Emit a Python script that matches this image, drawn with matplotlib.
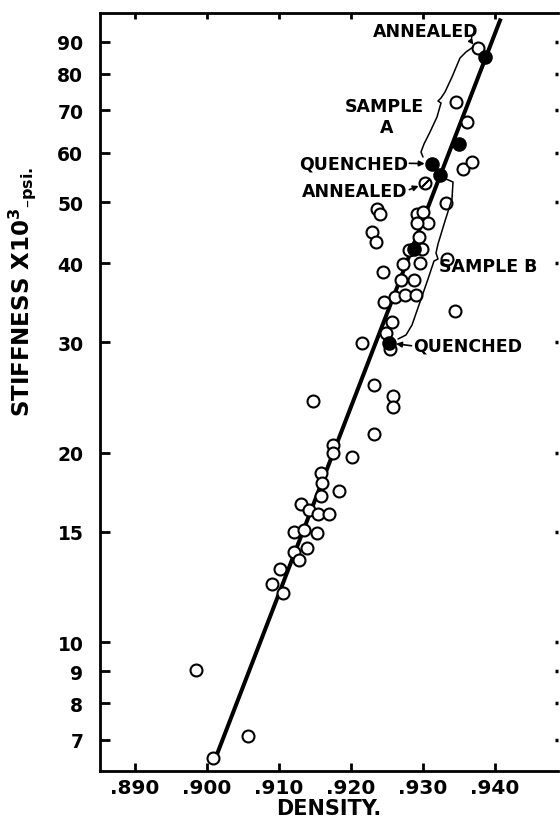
import matplotlib
matplotlib.use('Agg')
import matplotlib.pyplot as plt
from matplotlib.ticker import FixedLocator, FixedFormatter, NullLocator

plt.rcParams['font.family'] = ['DejaVu Sans']
plt.rcParams['font.weight'] = 'bold'
plt.rcParams['mathtext.default'] = 'bf'

# ---- data ----
open_density = [0.9376, 0.9346, 0.9361, 0.9356, 0.9368, 0.9332, 0.9236, 0.9240,
                0.9229, 0.9235, 0.9291, 0.9300, 0.9307, 0.9292, 0.9294, 0.9280,
                0.9298, 0.9272, 0.9296, 0.9245, 0.9270, 0.9288, 0.9261, 0.9275,
                0.9290, 0.9246, 0.9257, 0.9249, 0.9254, 0.9215, 0.9344, 0.9333,
                0.9232, 0.9147, 0.9258, 0.9258, 0.9232, 0.9175, 0.9175, 0.9202,
                0.9159, 0.9160, 0.9183, 0.9159, 0.9130, 0.9142, 0.9154, 0.9170,
                0.9121, 0.9135, 0.9153, 0.9121, 0.9139, 0.9128, 0.9101, 0.9090,
                0.9106, 0.8985, 0.9057, 0.9009]
open_stiffness = [88.0, 72.3, 67.2, 56.5, 57.9, 49.9, 48.9, 48.0,
                  44.9, 43.3, 48.0, 48.2, 46.4, 46.3, 44.0, 42.0,
                  42.2, 39.9, 40.1, 38.8, 37.6, 37.6, 35.4, 35.6,
                  35.6, 34.7, 32.3, 31.0, 29.3, 29.9, 33.6, 40.7,
                  25.6, 24.2, 24.6, 23.7, 21.4, 20.6, 20.0, 19.7,
                  18.6, 17.9, 17.4, 17.1, 16.6, 16.2, 16.0, 16.0,
                  15.0, 15.1, 14.9, 13.9, 14.1, 13.5, 13.1, 12.4,
                  12.0, 9.04, 7.09, 6.54]
filled_density = [0.9386, 0.9350, 0.9312, 0.9324, 0.9288, 0.9253]
filled_stiffness = [85.2, 61.9, 57.6, 55.2, 42.1, 29.9]
slashed_density = [0.9303]
slashed_stiffness = [53.6]
line_density = [0.9013, 0.9408]
line_stiffness = [6.6, 98.0]

xticks = [0.890, 0.900, 0.910, 0.920, 0.930, 0.940]
xtick_labels = ['.890', '.900', '.910', '.920', '.930', '.940']
yticks = [7, 8, 9, 10, 15, 20, 30, 40, 50, 60, 70, 80, 90]
ytick_labels = ['7', '8', '9', '10', '15', '20', '30', '40', '50', '60', '70', '80', '90']

# ---- figure ----
W, H = 560, 828
fig = plt.figure(figsize=(W / 100, H / 100), dpi=100)
L, R, T, B = 100, 558, 14, 772
ax = fig.add_axes([L / W, (H - B) / H, (R - L) / W, (B - T) / H])
ax.set_yscale('log')
ax.set_xlim(0.88514, 0.94875)
ax.set_ylim(6.246, 100)

ax.plot(line_density, line_stiffness, color='black', lw=2.9,
        solid_capstyle='butt', zorder=2)
ax.plot(open_density, open_stiffness, 'o', ms=8.6, mfc='white', mec='black',
        mew=1.5, zorder=3)
ax.plot(slashed_density, slashed_stiffness, 'o', ms=8.6, mfc='white', mec='black',
        mew=1.5, zorder=3)
ax.plot(slashed_density, slashed_stiffness, marker=(2, 2, -45), ms=8.6,
        mec='black', mew=1.3, ls='none', zorder=4)
ax.plot(filled_density, filled_stiffness, 'o', ms=9.0, mfc='black', mec='black',
        mew=1.5, zorder=5)

# axes styling
ax.xaxis.set_major_locator(FixedLocator(xticks))
ax.xaxis.set_major_formatter(FixedFormatter(xtick_labels))
ax.xaxis.set_minor_locator(NullLocator())
ax.yaxis.set_major_locator(FixedLocator(yticks))
ax.yaxis.set_major_formatter(FixedFormatter(ytick_labels))
ax.yaxis.set_minor_locator(NullLocator())
for s in ['left', 'bottom', 'top']:
    ax.spines[s].set_linewidth(2.0)
ax.spines['right'].set_visible(False)
ax.tick_params(axis='x', which='major', direction='in', length=6, width=2,
               labelsize=14.5, pad=5, top=True)
ax.tick_params(axis='y', which='major', direction='in', length=7, width=2,
               labelsize=13.5, pad=12, right=True)
for t in ax.yaxis.get_major_ticks():
    t.tick2line.set_markersize(2.5)
    t.tick2line.set_markeredgewidth(2.5)
for t in ax.xaxis.get_major_ticks():
    t.tick2line.set_markersize(4)
for lab in ax.get_xticklabels() + ax.get_yticklabels():
    lab.set_fontweight('bold')

ax.set_xlabel('DENSITY.', fontsize=15, fontweight='bold', labelpad=1)
fig.text(22 / W, 1 - 292 / H, 'STIFFNESS X10$^{3}$$_{\u2013psi.}$', rotation=90,
         ha='center', va='center', fontsize=16.5, fontweight='bold')

# ---- annotations ----
fs = 12.5
ax.text(0.9304, 93.6, 'ANNEALED', fontsize=fs, ha='center', va='center')
ax.text(0.9246, 71.2, 'SAMPLE', fontsize=fs, ha='center', va='center')
ax.text(0.9250, 65.9, 'A', fontsize=fs, ha='center', va='center')
ax.text(0.9279, 57.7, 'QUENCHED', fontsize=fs, ha='right', va='center')
ax.text(0.9279, 52.2, 'ANNEALED', fontsize=fs, ha='right', va='center')
ax.text(0.9322, 39.6, 'SAMPLE B', fontsize=fs, ha='left', va='center')
ax.text(0.9286, 29.6, 'QUENCHED', fontsize=fs, ha='left', va='center')

arrow = dict(arrowstyle='-|>', lw=1.2, color='black', mutation_scale=8,
             shrinkA=0, shrinkB=5)
ax.annotate('', xy=(filled_density[2], filled_stiffness[2]), xytext=(0.9281, 57.7),
            arrowprops=arrow)
ax.annotate('', xy=(slashed_density[0], slashed_stiffness[0]), xytext=(0.9281, 52.4),
            arrowprops=arrow)
ax.annotate('', xy=(filled_density[5], filled_stiffness[5]), xytext=(0.9284, 29.6),
            arrowprops=arrow)
ax.annotate('', xy=(open_density[0], open_stiffness[0]), xytext=(0.9368, 92.0),
            arrowprops=dict(arrowstyle='-|>', lw=1.0, color='black', mutation_scale=7,
                            shrinkA=0, shrinkB=4,
                            connectionstyle='arc3,rad=0.4'))

# brackets (drawn in reference pixel space)
def pxpath(pts):
    return [(x - L) / (R - L) for x, _ in pts], [(B - y) / (B - T) for _, y in pts]

brA = [(473, 48), (466, 53), (460, 59), (452, 78), (445, 93), (441, 99), (438, 102),
       (441, 104), (437, 118), (430, 133), (424, 145), (421, 153), (423, 158)]
brB = [(437, 182), (446, 180), (453, 183), (452, 200), (445, 222), (438, 245),
       (436, 254), (438, 260), (434, 262), (428, 280), (420, 303), (412, 326),
       (406, 336), (398, 340)]
for br in (brA, brB):
    xs, ys = pxpath(br)
    ax.plot(xs, ys, transform=ax.transAxes, color='black', lw=1.1, zorder=6,
            solid_capstyle='round', clip_on=False)

fig.savefig('out.png', dpi=100)
